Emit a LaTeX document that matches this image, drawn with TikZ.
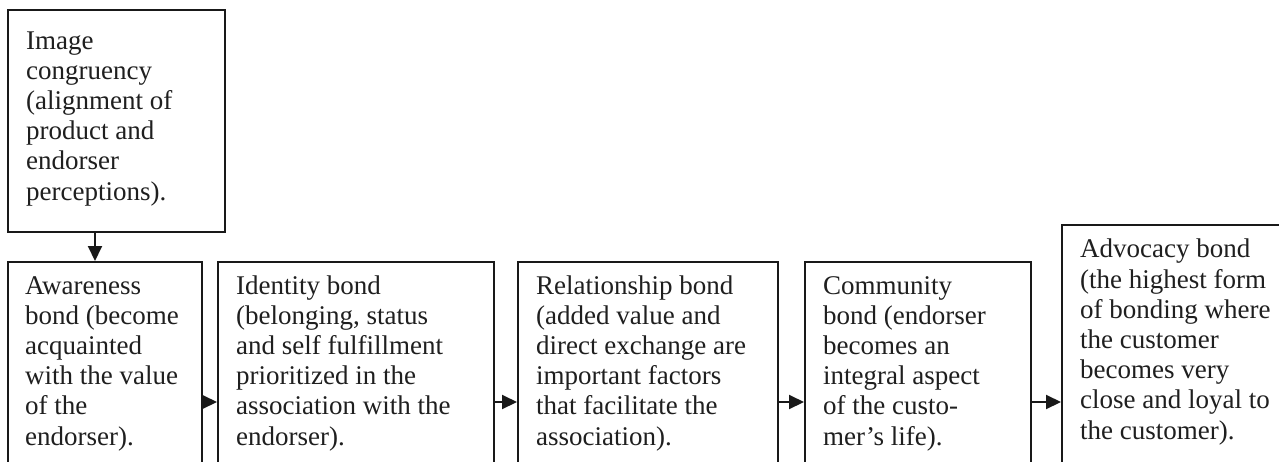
\documentclass[tikz,border=0pt]{standalone}
\usepackage{fontspec}
\setmainfont{Liberation Serif}
\usetikzlibrary{arrows.meta,calc}
\begin{document}
\begin{tikzpicture}[x=1pt,y=-1pt,
  box/.style={draw=black!90, line width=2pt, rectangle, anchor=north west, inner sep=0pt},
  txt/.style={anchor=base west, align=left, inner sep=0pt, text=black!88, font=\fontsize{27}{30.2}\selectfont},
  arr/.style={draw=black!90, line width=2pt, -{Triangle[length=15pt,width=14pt]}}]
\useasboundingbox (0,0) rectangle (1279,461);
\clip (0,0) rectangle (1279,461);
\fill[white] (0,0) rectangle (1279,461);
% boxes
\node[box, minimum width=217pt, minimum height=222pt] (img) at (7,9) {};
\node[box, minimum width=194pt, minimum height=260pt] (b1) at (7,261) {};
\node[box, minimum width=276pt, minimum height=260pt] (b2) at (217,261) {};
\node[box, minimum width=260pt, minimum height=260pt] (b3) at (517,261) {};
\node[box, minimum width=226pt, minimum height=260pt] (b4) at (804,261) {};
\node[box, minimum width=300pt, minimum height=300pt] (b5) at (1061,224) {};
% texts (anchor is the baseline of the last line)
\node[txt] (t0) at (26,200) {Image\\congruency\\(alignment of\\product and\\endorser\\perceptions).};
\node[txt] (t1) at (25,445) {Awareness\\bond (become\\acquainted\\with the value\\of the\\endorser).};
\node[txt] (t2) at (236,445) {Identity bond\\(belonging, status\\and self fulfillment\\prioritized in the\\association with the\\endorser).};
\node[txt] (t3) at (536,445) {Relationship bond\\(added value and\\direct exchange are\\important factors\\that facilitate the\\association).};
\node[txt] (t4) at (823,445) {Community\\bond (endorser\\becomes an\\integral aspect\\of the custo-\\mer’s life).};
\node[txt] (t5) at (1080,439) {Advocacy bond\\(the highest form\\of bonding where\\the customer\\becomes very\\close and loyal to\\the customer).};
% connectors
\coordinate (m) at (0,402);
\draw[arr] ([xshift=88pt]img.south west) -- ([xshift=88pt]b1.north west);
\draw[arr] (b1.east |- m) -- (b2.west |- m);
\draw[arr] (b2.east |- m) -- (b3.west |- m);
\draw[arr] (b3.east |- m) -- (b4.west |- m);
\draw[arr] (b4.east |- m) -- (b5.west |- m);
\end{tikzpicture}
\end{document}
